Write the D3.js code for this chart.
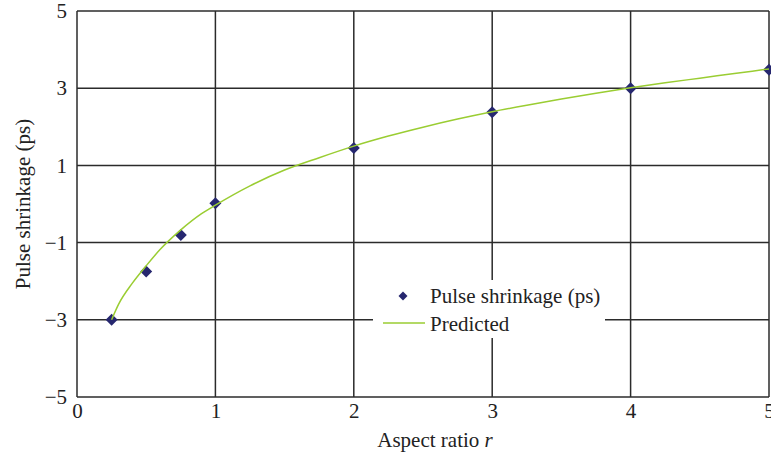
<!DOCTYPE html>
<html><head><meta charset="utf-8">
<script src="https://cdn.jsdelivr.net/npm/d3@7"></script>
<style>body{margin:0;background:#fff}svg{display:block}text{font-family:"Liberation Serif","Times New Roman",serif;fill:#222}</style>
</head><body>
<script>
const measuredR = [0.25, 0.5, 0.75, 1, 2, 3, 4, 5];
const measuredShrink = [-3.0, -1.75, -0.8, 0.02, 1.45, 2.38, 3.0, 3.48];
const predictedR = [0.25, 0.3, 0.4, 0.5, 0.6, 0.75, 0.9, 1.0, 1.25, 1.5, 1.75, 2.0, 2.25, 2.5, 2.75, 3.0, 3.25, 3.5, 3.75, 4.0, 4.25, 4.5, 4.75, 5.0];
const predictedShrink = [-3.0, -2.6, -2.05, -1.6, -1.18, -0.67, -0.25, -0.03, 0.47, 0.88, 1.2, 1.5, 1.76, 1.99, 2.2, 2.39, 2.56, 2.72, 2.87, 3.01, 3.14, 3.26, 3.38, 3.5];
const xTicks = [0, 1, 2, 3, 4, 5];
const yTicks = [-5, -3, -1, 1, 3, 5];

const W = 771, H = 457;
const FS = 21;
const svg = d3.select("body").append("svg").attr("width", W).attr("height", H);
const x = d3.scaleLinear().domain([0, 5]).range([77, 769]);
const y = d3.scaleLinear().domain([-5, 5]).range([397, 11]);
const fmt = d => d < 0 ? "\u2212" + Math.abs(d) : String(d);
const gridColor = "#2b2b2b";

// gridlines
svg.append("g").selectAll("line").data(yTicks).join("line")
  .attr("x1", x(0)).attr("x2", x(5)).attr("y1", d => y(d)).attr("y2", d => y(d))
  .attr("stroke", gridColor).attr("stroke-width", 1.5);
svg.append("g").selectAll("line").data(xTicks).join("line")
  .attr("y1", y(-5)).attr("y2", y(5)).attr("x1", d => x(d)).attr("x2", d => x(d))
  .attr("stroke", gridColor).attr("stroke-width", 1.5);

// axes labels via d3 axes (no domain / tick lines)
const xAxis = svg.append("g").attr("transform", `translate(0,${y(-5)})`)
  .call(d3.axisBottom(x).tickValues(xTicks).tickFormat(fmt).tickSize(0).tickPadding(6));
const yAxis = svg.append("g").attr("transform", `translate(${x(0)},0)`)
  .call(d3.axisLeft(y).tickValues(yTicks).tickFormat(fmt).tickSize(0).tickPadding(10));
[xAxis, yAxis].forEach(g => {
  g.select(".domain").remove();
  g.selectAll("text").attr("font-size", FS).attr("fill", "#222");
});

// diamond symbol (square rotated 45deg)
const diamond = s => `M0,${-s}L${s},0L0,${s}L${-s},0Z`;

// legend box (covers gridlines)
const lg = svg.append("g");
lg.append("rect").attr("x", 373).attr("y", 280).attr("width", 232).attr("height", 58).attr("fill", "#fff");
lg.append("path").attr("d", diamond(4.5))
  .attr("transform", "translate(403,296)").attr("fill", "#26276f");
lg.append("text").attr("x", 430).attr("y", 303).attr("font-size", FS).text("Pulse shrinkage (ps)");
lg.append("line").attr("x1", 383).attr("x2", 425).attr("y1", 323).attr("y2", 323)
  .attr("stroke", "#9acd32").attr("stroke-width", 1.3);
lg.append("text").attr("x", 430).attr("y", 331).attr("font-size", FS).text("Predicted");

// measured points
const pts = measuredR.map((r, i) => [r, measuredShrink[i]]);
svg.append("g").selectAll("path").data(pts).join("path")
  .attr("d", diamond(6))
  .attr("transform", d => `translate(${x(d[0])},${y(d[1])})`)
  .attr("fill", "#26276f");

// predicted line
const pred = predictedR.map((r, i) => [r, predictedShrink[i]]);
svg.append("path").datum(pred)
  .attr("d", d3.line().x(d => x(d[0])).y(d => y(d[1])).curve(d3.curveMonotoneX))
  .attr("fill", "none").attr("stroke", "#9acd32").attr("stroke-width", 1.5);

// axis titles
const xt = svg.append("text").attr("x", 435).attr("y", 447).attr("text-anchor", "middle").attr("font-size", FS);
xt.append("tspan").text("Aspect ratio ");
xt.append("tspan").attr("font-style", "italic").text("r");
svg.append("text").attr("transform", "translate(30,204) rotate(-90)")
  .attr("text-anchor", "middle").attr("font-size", FS).text("Pulse shrinkage (ps)");
</script>
</body></html>
